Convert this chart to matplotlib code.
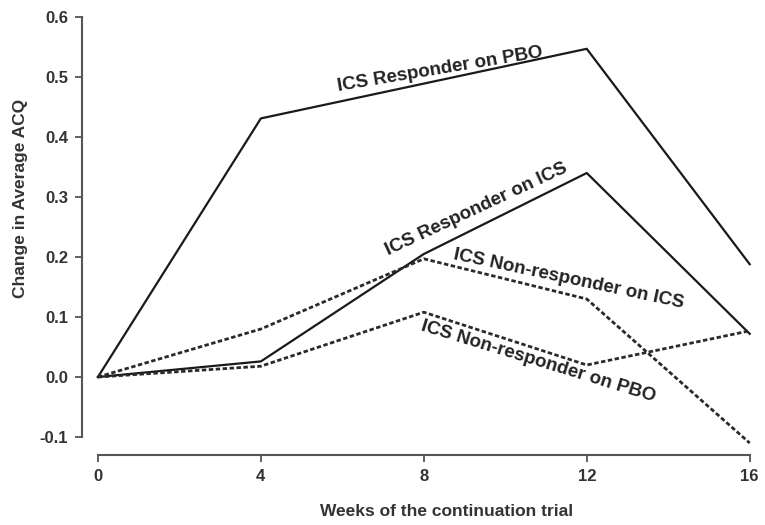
import numpy as np
import matplotlib.pyplot as plt

plt.rcParams['font.family'] = ['Liberation Sans', 'DejaVu Sans']

weeks = [0, 4, 8, 12, 16]
resp_pbo = [0.0, 0.431, 0.489, 0.547, 0.188]
resp_ics = [0.0, 0.026, 0.205, 0.340, 0.072]
nonresp_ics = [0.0, 0.080, 0.197, 0.130, -0.110]
nonresp_pbo = [0.0, 0.018, 0.108, 0.020, 0.077]

x_ticks = [0, 4, 8, 12, 16]
y_ticks = [-0.1, 0.0, 0.1, 0.2, 0.3, 0.4, 0.5, 0.6]

fig = plt.figure(figsize=(7.65, 5.25), dpi=100)
ax = fig.add_axes([0.128, 0.1676, 0.852, 0.80])

dot = (0, (1.6, 0.9))
ax.plot(weeks, resp_pbo, color='#1a1a1a', lw=1.6, clip_on=False)
ax.plot(weeks, resp_ics, color='#1a1a1a', lw=1.6, clip_on=False)
ax.plot(weeks, nonresp_ics, color='#2a2a2a', lw=2.0, ls=dot, clip_on=False)
ax.plot(weeks, nonresp_pbo, color='#2a2a2a', lw=2.0, ls=dot, clip_on=False)

ax.set_xlim(0, 16)
ax.set_ylim(-0.1, 0.6)
ax.set_xticks(x_ticks)
ax.set_yticks(y_ticks)
ax.set_xticklabels([str(t) for t in x_ticks])
ax.set_yticklabels(['%.1f' % t for t in y_ticks])

# spines offset from the data area (values in points: 16px / 18px)
for s in ['top', 'right']:
    ax.spines[s].set_visible(False)
ax.spines['left'].set_position(('outward', 11.5))
ax.spines['bottom'].set_position(('outward', 13))
for s in ['left', 'bottom']:
    ax.spines[s].set_color('#555555')
    ax.spines[s].set_linewidth(1.5)
ax.tick_params(direction='out', length=5, width=1.3, color='#555555',
               labelsize=12, labelcolor='#333333', pad=5)
for lab in ax.get_xticklabels() + ax.get_yticklabels():
    lab.set_fontweight('bold')

ax.set_xlabel('Weeks of the continuation trial', fontsize=12.5, fontweight='bold',
              color='#333333')
ax.set_ylabel('Change in Average ACQ', fontsize=12.5, fontweight='bold',
              color='#333333')
ax.xaxis.label.set_va('center')
ax.xaxis.set_label_coords(0.535, -0.178)
ax.yaxis.set_label_coords(-0.108, 0.569)

lab_kw = dict(fontsize=13.5, fontweight='bold', color='#222222', ha='center', va='center')
ax.text(8.4, 0.512, 'ICS Responder on PBO', rotation=9.5, **lab_kw)
ax.text(9.3, 0.28, 'ICS Responder on ICS', rotation=25, **lab_kw)
ax.text(11.56, 0.163, 'ICS Non-responder on ICS', rotation=-12, **lab_kw)
ax.text(10.8, 0.025, 'ICS Non-responder on PBO', rotation=-17, **lab_kw)

fig.savefig('out.png', dpi=100)
